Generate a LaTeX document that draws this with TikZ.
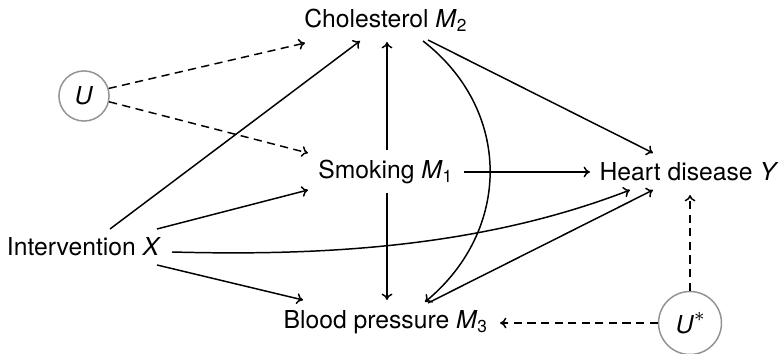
\documentclass[tikz,border=0pt]{standalone}
\usepackage{fontspec}
\setmainfont{TeX Gyre Heros}
\usetikzlibrary{arrows.meta}
\begin{document}
\begin{tikzpicture}[x=0.405pt,y=-0.405pt,
  lbl/.style={inner sep=0pt, font=\fontsize{10}{12}\selectfont},
  latent/.style={circle, draw=gray!85, line width=0.6pt, inner sep=0pt, font=\fontsize{10}{12}\selectfont},
  edge/.style={line width=0.6pt, -{To[length=2.6pt,width=4.4pt]}},
  dedge/.style={line width=0.6pt, -{To[length=2.6pt,width=4.4pt]}, dash pattern=on 3.3pt off 2.2pt}]
\useasboundingbox (0,0) rectangle (781,354);
\node[lbl] (M2) at (386,20) {Cholesterol \textit{M}\textsubscript{2}};
\node[lbl] (M1) at (386,172) {Smoking \textit{M}\textsubscript{1}};
\node[lbl] (Y) at (689,172) {Heart disease\ \textit{Y}};
\node[lbl] (X) at (84,247) {Intervention \textit{X}};
\node[lbl] (M3) at (386,322) {Blood pressure \textit{M}\textsubscript{3}};
\node[latent, minimum size=20.3pt] (U) at (84,96) {\textit{U}};
\node[latent, minimum size=25.5pt] (Us) at (690,323) {\textit{U}\raisebox{0.9ex}{\fontsize{8}{9}\selectfont$\ast$}};
% confounders
\draw[dedge] (U.17) -- ([shift={(-81,23)}]M2.center);
\draw[dedge] (U.-13) -- ([shift={(-78,-19)}]M1.center);
\draw[dedge] (Us.north) -- ([shift={(1,23)}]Y.center);
\draw[dedge] (Us.west) -- ([shift={(114,1)}]M3.center);
% from X
\draw[edge] ([shift={(26,-18)}]X.center) -- ([shift={(-26,21)}]M2.center);
\draw[edge] ([shift={(73,-18)}]X.center) -- ([shift={(-78,18)}]M1.center);
\draw[edge] ([shift={(73,18)}]X.center) -- ([shift={(-83,-22)}]M3.center);
\draw[edge] ([shift={(88,5)}]X.center) .. controls (320,256) and (480,248) .. ([shift={(-59,18)}]Y.center);
% from M1
\draw[edge] ([shift={(1,-22)}]M1.center) -- ([shift={(1,22)}]M2.center);
\draw[edge] ([shift={(1,21)}]M1.center) -- ([shift={(1,-22)}]M3.center);
\draw[edge] ([shift={(78,0)}]M1.center) -- ([shift={(-99,0)}]Y.center);
% from M2
\draw[edge] ([shift={(42,20)}]M2.center) -- ([shift={(-36,-19)}]Y.center);
\draw[edge] ([shift={(37,21)}]M2.center) .. controls (512,110) and (512,230) .. ([shift={(39,-20)}]M3.center);
% from M3
\draw[edge] ([shift={(42,-19)}]M3.center) -- ([shift={(-36,18)}]Y.center);
\end{tikzpicture}
\end{document}
